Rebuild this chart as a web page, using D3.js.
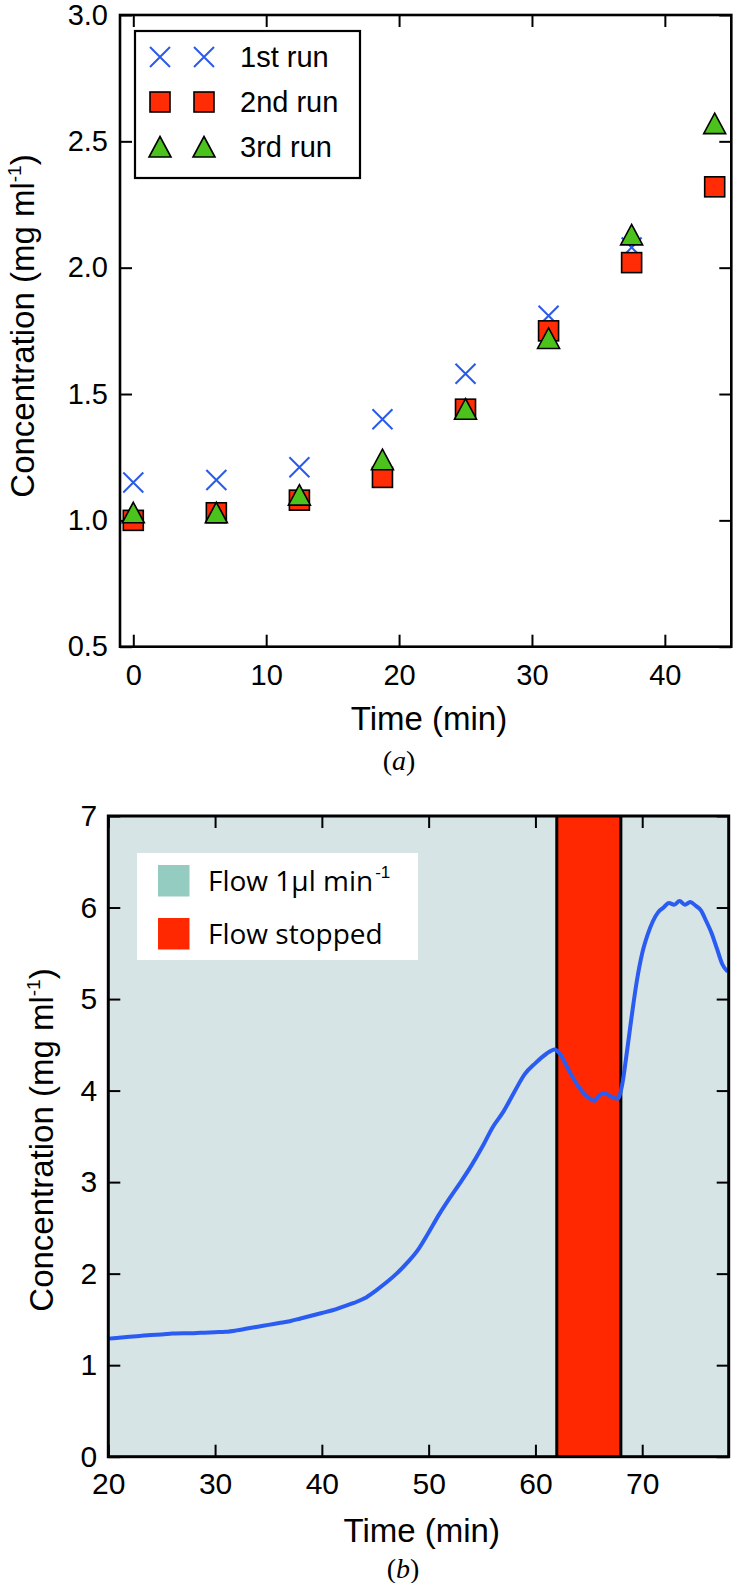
<!DOCTYPE html>
<html><head><meta charset="utf-8">
<script src="https://cdn.jsdelivr.net/npm/d3@7"></script>
<style>body{margin:0;background:#fff} svg{display:block}</style>
</head><body><svg id="c" width="744" height="1583"></svg>
<script>
// ---------- Panel (a) data ----------
const timesA = [0, 6.25, 12.5, 18.75, 25, 31.25, 37.5, 43.75];
const run1 = [1.15, 1.16, 1.21, 1.40, 1.58, 1.81, 2.08, null];
const run2 = [1.00, 1.03, 1.08, 1.17, 1.44, 1.75, 2.02, 2.32];
const run3 = [1.03, 1.03, 1.10, 1.24, 1.44, 1.72, 2.13, 2.57];
const seriesNames = ["1st run", "2nd run", "3rd run"];
const xTicksA = [0, 10, 20, 30, 40];
const yTicksA = [0.5, 1.0, 1.5, 2.0, 2.5, 3.0];

// ---------- Panel (b) data ----------
const timeB = [20,21,22,23,24,25,26,27,28,29,30,31,32,33,34,35,36,37,38,39,40,41,42,43,44,45,46,47,48,49,50,51,52,53,54,55,56,57,58,59,60,61,61.8,62.3,63,64,65,65.5,66,66.5,67,67.7,68.1,68.6,69,69.5,70,70.5,71,71.5,72,72.5,73,73.5,74,74.5,75,75.5,76,76.5,77,77.5,78];
const concB = [1.29,1.30,1.31,1.32,1.33,1.335,1.345,1.35,1.35,1.355,1.36,1.365,1.38,1.40,1.42,1.44,1.46,1.48,1.51,1.54,1.57,1.60,1.64,1.68,1.73,1.81,1.90,2.00,2.12,2.26,2.45,2.65,2.83,3.00,3.18,3.38,3.60,3.77,3.98,4.18,4.30,4.40,4.45,4.40,4.25,4.05,3.92,3.89,3.95,3.97,3.94,3.91,4.05,4.45,4.80,5.20,5.50,5.70,5.85,5.95,6.00,6.05,6.03,6.07,6.03,6.06,6.02,5.97,5.85,5.72,5.55,5.38,5.30];
const stopWindow = [62, 68];
const xTicksB = [20, 30, 40, 50, 60, 70];
const yTicksB = [0, 1, 2, 3, 4, 5, 6, 7];
const legendB = ["Flow 1µl min", "Flow stopped"];

const COL_X = "#2a5ae8", COL_SQ = "#ff2c06", COL_TRI = "#4cc21c";
const COL_BG = "#d6e4e5", COL_STOP = "#ff2800", COL_FLOW = "#95ccc1", COL_LINE = "#2a5cf2";
const SANS = "'Liberation Sans', Arial, Helvetica, sans-serif";

const svg = d3.select("#c");
svg.append("rect").attr("width", 744).attr("height", 1583).attr("fill", "#fff");

function styleAxis(g, size) {
  g.select(".domain").remove();
  g.selectAll("text").attr("font-family", SANS).attr("font-size", size).attr("fill", "#000");
  g.selectAll("line").attr("stroke", "#000").attr("stroke-width", 2);
}

// ===================== Panel (a) =====================
const xA = d3.scaleLinear().domain([-1, 45]).range([120, 731.3]);
const yA = d3.scaleLinear().domain([0.5, 3.0]).range([646.7, 15]);
const gA = svg.append("g");

gA.append("g").attr("transform", `translate(0,${yA(0.5)})`)
  .call(d3.axisBottom(xA).tickValues(xTicksA).tickSize(-12).tickSizeOuter(0).tickPadding(18).tickFormat(d3.format("d")))
  .call(g => styleAxis(g, 29));
gA.append("g").attr("transform", `translate(0,${yA(3.0)})`)
  .call(d3.axisTop(xA).tickValues(xTicksA).tickSize(-12).tickSizeOuter(0).tickFormat(""))
  .call(g => styleAxis(g, 29));
gA.append("g").attr("transform", `translate(${xA(-1)},0)`)
  .call(d3.axisLeft(yA).tickValues(yTicksA).tickSize(-12).tickSizeOuter(0).tickPadding(12).tickFormat(d3.format(".1f")))
  .call(g => styleAxis(g, 29));
gA.append("g").attr("transform", `translate(${xA(45)},0)`)
  .call(d3.axisRight(yA).tickValues(yTicksA).tickSize(-12).tickSizeOuter(0).tickFormat(""))
  .call(g => styleAxis(g, 29));

const markerX = (g) => g.append("path").attr("d", "M-10,-10L10,10M-10,10L10,-10")
  .attr("stroke", COL_X).attr("stroke-width", 2).attr("fill", "none");
const markerSq = (g) => g.append("rect").attr("x", -10).attr("y", -10).attr("width", 20).attr("height", 20)
  .attr("fill", COL_SQ).attr("stroke", "#000").attr("stroke-width", 1.6);
const markerTri = (g) => g.append("path").attr("d", "M0,-10.5L11,10L-11,10Z")
  .attr("fill", COL_TRI).attr("stroke", "#000").attr("stroke-width", 1.6);
const markers = [markerX, markerSq, markerTri];
const runs = [run1, run2, run3];

runs.forEach((vals, si) => {
  const pts = timesA.map((t, i) => ({ t, v: vals[i] })).filter(d => d.v != null);
  gA.append("g").selectAll("g").data(pts).join("g")
    .attr("transform", d => `translate(${xA(d.t)},${yA(d.v)})`)
    .each(function () { markers[si](d3.select(this)); });
});

gA.append("rect").attr("x", xA(-1)).attr("y", yA(3.0))
  .attr("width", xA(45) - xA(-1)).attr("height", yA(0.5) - yA(3.0))
  .attr("fill", "none").attr("stroke", "#000").attr("stroke-width", 2.6);

// legend (a)
const legA = gA.append("g");
legA.append("rect").attr("x", 135).attr("y", 31).attr("width", 225).attr("height", 147)
  .attr("fill", "#fff").attr("stroke", "#000").attr("stroke-width", 2.2);
seriesNames.forEach((name, i) => {
  const cy = 57 + i * 45;
  [160, 204].forEach(cx => markers[i](legA.append("g").attr("transform", `translate(${cx},${cy})`)));
  legA.append("text").attr("x", 240).attr("y", cy).attr("dy", "0.36em")
    .attr("font-family", SANS).attr("font-size", 29).text(name);
});

// axis labels (a)
gA.append("text").attr("x", 429).attr("y", 730).attr("text-anchor", "middle")
  .attr("font-family", SANS).attr("font-size", 33).text("Time (min)");
const ylA = gA.append("text").attr("transform", "translate(34,326) rotate(-90)")
  .attr("text-anchor", "middle").attr("font-family", SANS).attr("font-size", 33);
ylA.append("tspan").text("Concentration (mg ml");
ylA.append("tspan").attr("font-size", 19).attr("dy", -13).text("-1");
ylA.append("tspan").attr("dy", 13).text(")");

const capA = svg.append("text").attr("x", 399).attr("y", 770).attr("text-anchor", "middle")
  .attr("font-family", "'Liberation Serif', 'Times New Roman', serif").attr("font-size", 28);
capA.append("tspan").text("(");
capA.append("tspan").attr("font-style", "italic").text("a");
capA.append("tspan").text(")");

// ===================== Panel (b) =====================
const xB = d3.scaleLinear().domain([20, 78.1]).range([108.3, 728.7]);
const yB = d3.scaleLinear().domain([0, 7]).range([1456.7, 816]);
const gB = svg.append("g");

gB.append("clipPath").attr("id", "clipB").append("rect")
  .attr("x", xB(20)).attr("y", yB(7)).attr("width", xB(78.1) - xB(20)).attr("height", yB(0) - yB(7));

gB.append("rect").attr("x", xB(20)).attr("y", yB(7))
  .attr("width", xB(78.1) - xB(20)).attr("height", yB(0) - yB(7)).attr("fill", COL_BG);

gB.append("rect").attr("x", xB(stopWindow[0])).attr("y", yB(7))
  .attr("width", xB(stopWindow[1]) - xB(stopWindow[0])).attr("height", yB(0) - yB(7))
  .attr("fill", COL_STOP);
gB.selectAll("line.edge").data(stopWindow).join("line").attr("class", "edge")
  .attr("x1", d => xB(d)).attr("x2", d => xB(d)).attr("y1", yB(7)).attr("y2", yB(0))
  .attr("stroke", "#000").attr("stroke-width", 3);

gB.append("g").attr("transform", `translate(0,${yB(0)})`)
  .call(d3.axisBottom(xB).tickValues(xTicksB).tickSize(-12).tickSizeOuter(0).tickPadding(16).tickFormat(d3.format("d")))
  .call(g => styleAxis(g, 30));
gB.append("g").attr("transform", `translate(0,${yB(7)})`)
  .call(d3.axisTop(xB).tickValues(xTicksB).tickSize(-12).tickSizeOuter(0).tickFormat(""))
  .call(g => styleAxis(g, 30));
gB.append("g").attr("transform", `translate(${xB(20)},0)`)
  .call(d3.axisLeft(yB).tickValues(yTicksB).tickSize(-12).tickSizeOuter(0).tickPadding(11).tickFormat(d3.format("d")))
  .call(g => styleAxis(g, 30));
gB.append("g").attr("transform", `translate(${xB(78.1)},0)`)
  .call(d3.axisRight(yB).tickValues(yTicksB).tickSize(-12).tickSizeOuter(0).tickFormat(""))
  .call(g => styleAxis(g, 30));

const line = d3.line().x((d, i) => xB(timeB[i])).y(d => yB(d)).curve(d3.curveMonotoneX);
gB.append("path").datum(concB).attr("d", line).attr("clip-path", "url(#clipB)")
  .attr("fill", "none").attr("stroke", COL_LINE).attr("stroke-width", 4).attr("stroke-linejoin", "round");

gB.append("rect").attr("x", xB(20)).attr("y", yB(7))
  .attr("width", xB(78.1) - xB(20)).attr("height", yB(0) - yB(7))
  .attr("fill", "none").attr("stroke", "#000").attr("stroke-width", 3);

// legend (b)
const legB = gB.append("g");
legB.append("rect").attr("x", 137).attr("y", 853).attr("width", 281).attr("height", 107).attr("fill", "#fff");
[COL_FLOW, COL_STOP].forEach((c, i) => {
  legB.append("rect").attr("x", 158).attr("y", 865 + i * 53).attr("width", 31.5).attr("height", 31.5).attr("fill", c);
});
const LFONT = "'Open Sans', 'Noto Sans', sans-serif";
const t1 = legB.append("text").attr("x", 208).attr("y", 891).attr("font-family", LFONT).attr("font-size", 28);
t1.append("tspan").text(legendB[0]);
t1.append("tspan").attr("font-family", SANS).attr("font-size", 17).attr("dx", 2).attr("dy", -13).text("-1");
legB.append("text").attr("x", 208).attr("y", 944).attr("font-family", LFONT).attr("font-size", 28).text(legendB[1]);

// axis labels (b)
gB.append("text").attr("x", 421.7).attr("y", 1541.7).attr("text-anchor", "middle")
  .attr("font-family", SANS).attr("font-size", 33).text("Time (min)");
const ylB = gB.append("text").attr("transform", "translate(53,1140) rotate(-90)")
  .attr("text-anchor", "middle").attr("font-family", SANS).attr("font-size", 33);
ylB.append("tspan").text("Concentration (mg ml");
ylB.append("tspan").attr("font-size", 19).attr("dy", -13).text("-1");
ylB.append("tspan").attr("dy", 13).text(")");

const capB = svg.append("text").attr("x", 403).attr("y", 1578).attr("text-anchor", "middle")
  .attr("font-family", "'Liberation Serif', 'Times New Roman', serif").attr("font-size", 28);
capB.append("tspan").text("(");
capB.append("tspan").attr("font-style", "italic").text("b");
capB.append("tspan").text(")");
</script>
</body></html>
